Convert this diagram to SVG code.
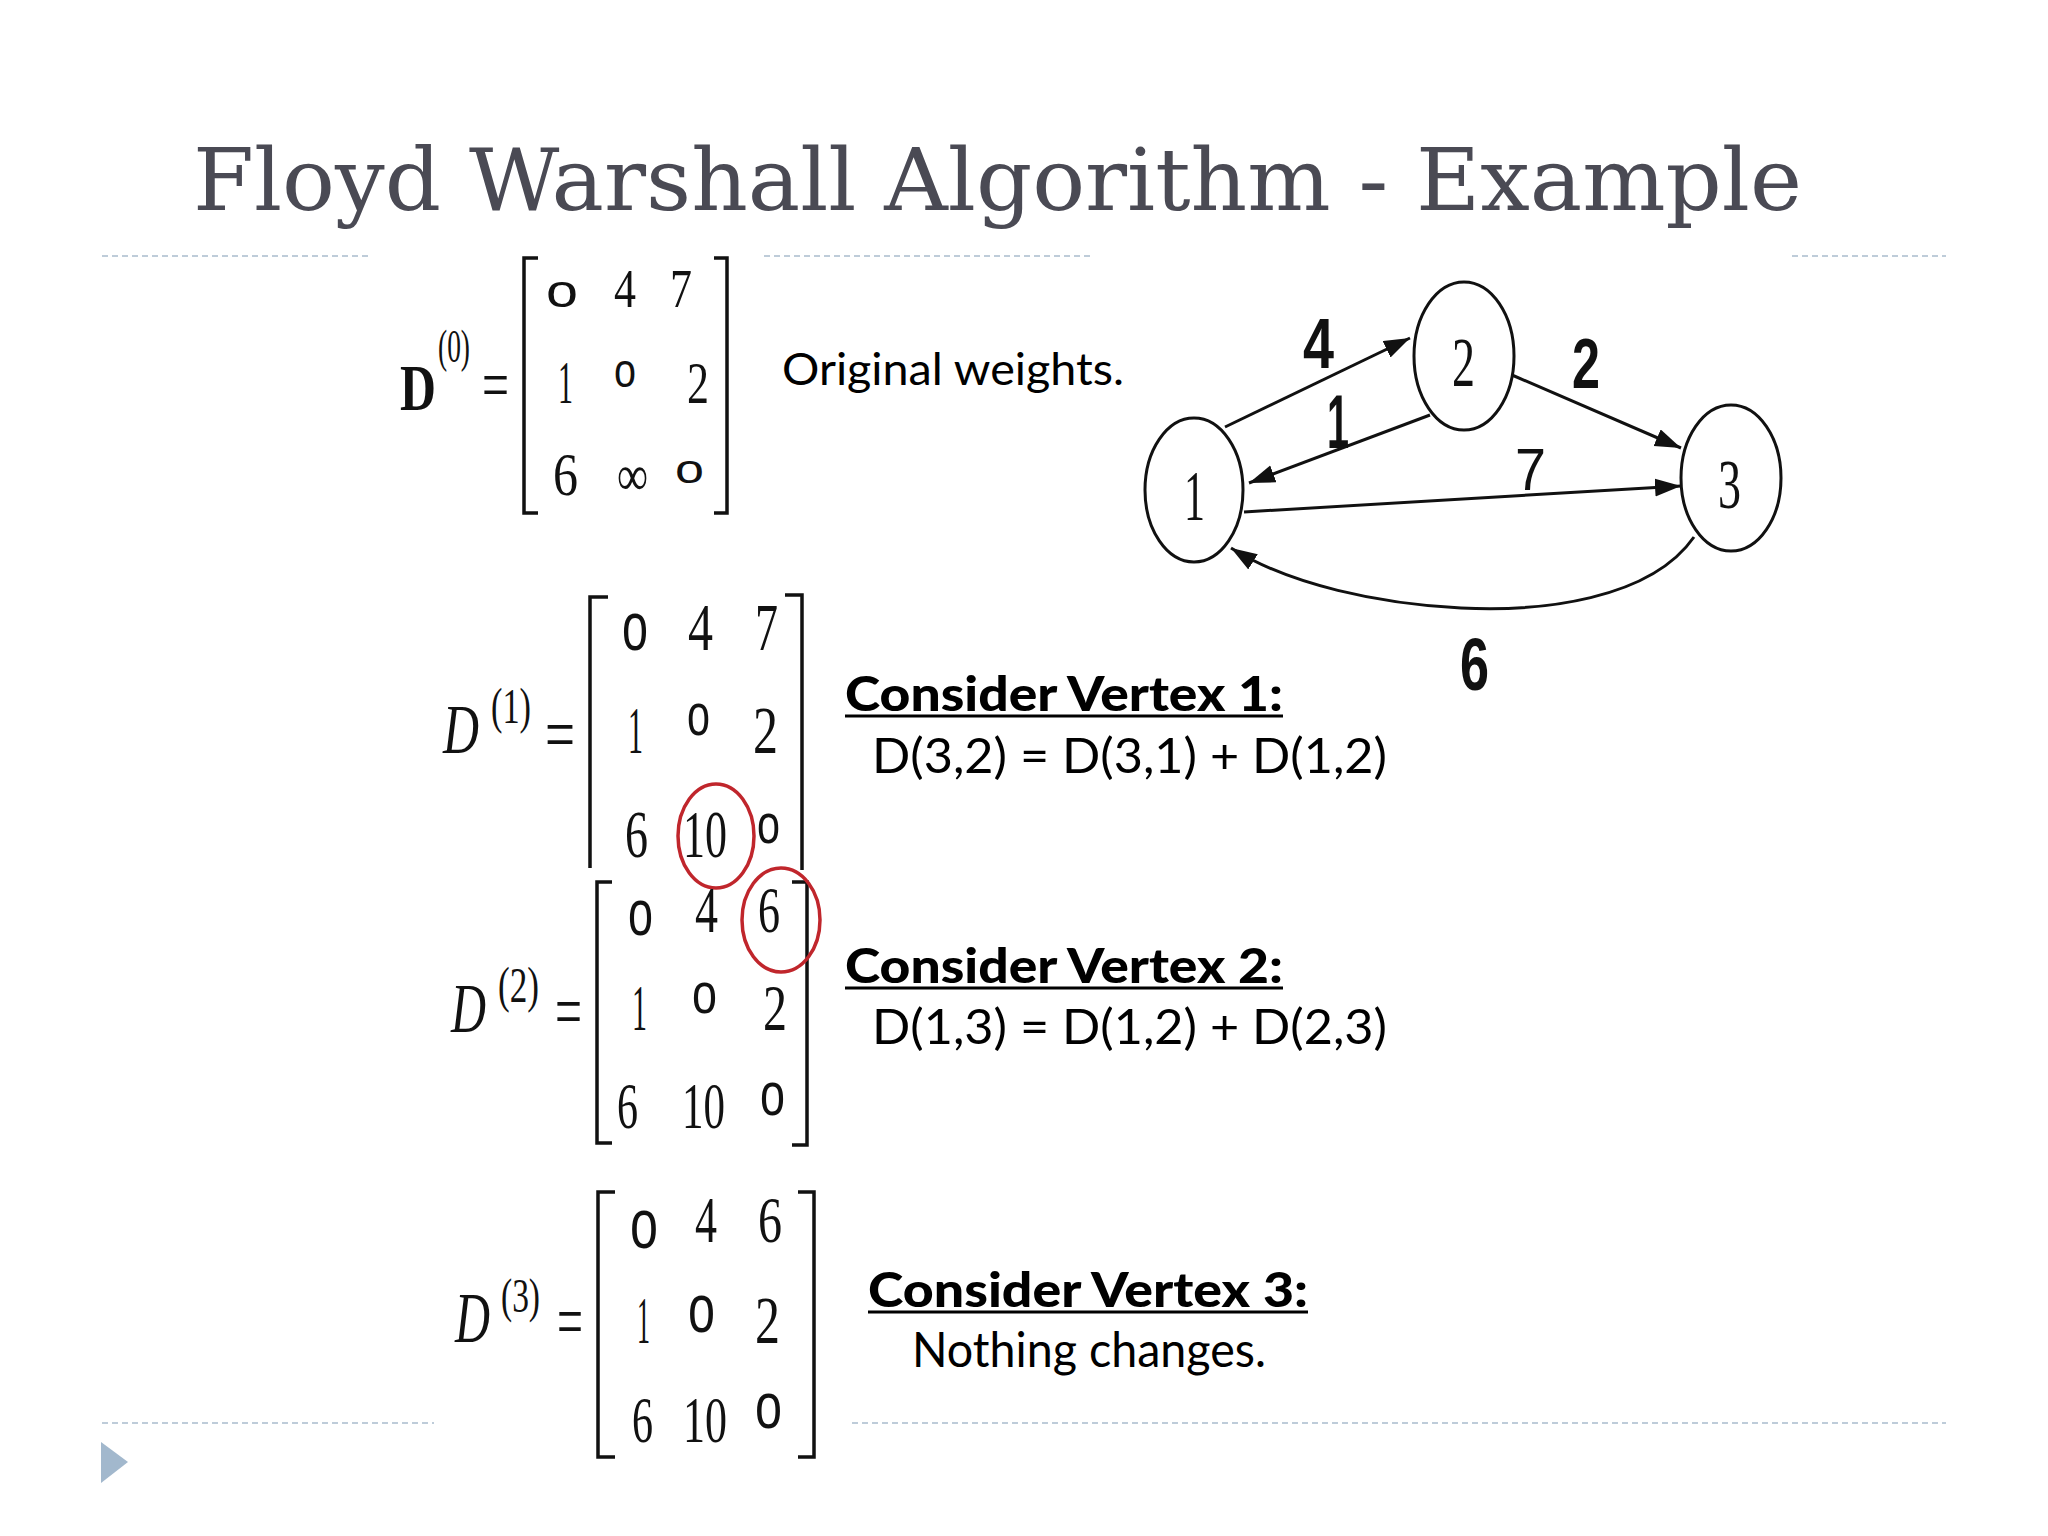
<svg xmlns="http://www.w3.org/2000/svg" width="2048" height="1536" viewBox="0 0 2048 1536">
<style>
.title{font-family:"DejaVu Serif","Liberation Serif",serif;font-size:86px;fill:#4a4a54}
.dash{stroke:#a9bccd;stroke-width:1.6;stroke-dasharray:6 4;fill:none}
.m{font-family:"Liberation Serif","Times New Roman",serif;fill:#111}
.z{font-family:"Liberation Sans",Arial,sans-serif;fill:#111}
.br{stroke:#111;stroke-width:3.5;fill:none}
.txt{font-family:Lato,"Open Sans",sans-serif;font-size:48px;fill:#000}
.hd{font-family:Lato,"Open Sans",sans-serif;font-size:48px;font-weight:900;fill:#000}
.ul{stroke:#000;stroke-width:3}
.red{stroke:#c0262c;stroke-width:3.5;fill:none}
.node ellipse{fill:#fff;stroke:#111;stroke-width:3}
.nl{font-family:"Liberation Serif","Times New Roman",serif;fill:#111}
.edge{stroke:#111;stroke-width:3;fill:none}
.el{font-family:"Liberation Sans",Arial,sans-serif;fill:#111}
</style>
<defs>
<marker id="ah" markerUnits="userSpaceOnUse" markerWidth="28" markerHeight="20" refX="26" refY="9" orient="auto">
<path d="M0,0 L26,9 L0,18 Z" fill="#111"/>
</marker>
</defs>
<rect width="2048" height="1536" fill="#fff"/>

<text class="title" x="193" y="210" textLength="1609" lengthAdjust="spacingAndGlyphs">Floyd Warshall Algorithm - Example</text>

<g id="rules">
<line class="dash" x1="102" y1="256" x2="372" y2="256"/>
<line class="dash" x1="764" y1="256" x2="1094" y2="256"/>
<line class="dash" x1="1792" y1="256" x2="1946" y2="256"/>
<line class="dash" x1="102" y1="1423" x2="434" y2="1423"/>
<line class="dash" x1="852" y1="1423" x2="1946" y2="1423"/>
<path d="M101,1442 L128,1462 L101,1483 Z" fill="#a2b8cd"/>
</g>

<g id="matrix-d0">
<text class="m" x="400" y="410" font-size="66" font-weight="bold" textLength="36" lengthAdjust="spacingAndGlyphs">D</text>
<text class="m" x="438" y="362" font-size="46" textLength="32" lengthAdjust="spacingAndGlyphs">(0)</text>
<text class="m" x="482" y="409" font-size="72" textLength="27" lengthAdjust="spacingAndGlyphs">=</text>
<path class="br" d="M538,258 H524 V513 H538"/>
<path class="br" d="M714,258 H727 V513 H714"/>
<text class="z" x="546" y="307" font-size="46" textLength="32" lengthAdjust="spacingAndGlyphs">o</text>
<text class="m" x="614" y="307" font-size="54" textLength="22" lengthAdjust="spacingAndGlyphs">4</text>
<text class="m" x="670" y="307" font-size="54" textLength="22" lengthAdjust="spacingAndGlyphs">7</text>
<text class="m" x="558" y="403" font-size="62" textLength="15" lengthAdjust="spacingAndGlyphs">1</text>
<text class="z" x="614" y="387" font-size="48" textLength="22" lengthAdjust="spacingAndGlyphs">o</text>
<text class="m" x="687" y="403" font-size="60" textLength="22" lengthAdjust="spacingAndGlyphs">2</text>
<text class="m" x="553" y="495" font-size="62" textLength="25" lengthAdjust="spacingAndGlyphs">6</text>
<text class="m" x="617" y="495" font-size="58" textLength="31" lengthAdjust="spacingAndGlyphs">∞</text>
<text class="z" x="675" y="483" font-size="40" textLength="29" lengthAdjust="spacingAndGlyphs">o</text>
</g>

<text class="txt" x="782" y="385" style="font-size:44px" textLength="342" lengthAdjust="spacingAndGlyphs">Original weights.</text>

<g id="matrix-d1">
<text class="m" x="443" y="753" font-size="70" font-style="italic" textLength="36" lengthAdjust="spacingAndGlyphs">D</text>
<text class="m" x="491" y="723" font-size="51" textLength="40" lengthAdjust="spacingAndGlyphs">(1)</text>
<text class="m" x="545" y="760" font-size="76" textLength="30" lengthAdjust="spacingAndGlyphs">=</text>
<path class="br" d="M608,597 H590 V868"/>
<path class="br" d="M785,595 H802 V870"/>
<text class="z" x="622" y="650" font-size="68" textLength="26" lengthAdjust="spacingAndGlyphs">o</text>
<text class="m" x="688" y="650" font-size="68" textLength="25" lengthAdjust="spacingAndGlyphs">4</text>
<text class="m" x="755" y="650" font-size="68" textLength="23" lengthAdjust="spacingAndGlyphs">7</text>
<text class="m" x="628" y="753" font-size="68" textLength="15" lengthAdjust="spacingAndGlyphs">1</text>
<text class="z" x="687" y="735" font-size="60" textLength="23" lengthAdjust="spacingAndGlyphs">o</text>
<text class="m" x="753" y="753" font-size="68" textLength="25" lengthAdjust="spacingAndGlyphs">2</text>
<text class="m" x="625" y="857" font-size="68" textLength="23" lengthAdjust="spacingAndGlyphs">6</text>
<text class="m" x="683" y="857" font-size="68" textLength="44" lengthAdjust="spacingAndGlyphs">10</text>
<text class="z" x="757" y="843" font-size="56" textLength="23" lengthAdjust="spacingAndGlyphs">o</text>
<ellipse class="red" cx="716" cy="836" rx="38" ry="52"/>
</g>

<g id="matrix-d2">
<text class="m" x="451" y="1032" font-size="70" font-style="italic" textLength="35" lengthAdjust="spacingAndGlyphs">D</text>
<text class="m" x="498" y="1002" font-size="51" textLength="41" lengthAdjust="spacingAndGlyphs">(2)</text>
<text class="m" x="555" y="1037" font-size="76" textLength="27" lengthAdjust="spacingAndGlyphs">=</text>
<path class="br" d="M612,882 H597 V1143 H612"/>
<path class="br" d="M792,882 H807 V1145 H792"/>
<text class="z" x="628" y="935" font-size="64" textLength="25" lengthAdjust="spacingAndGlyphs">o</text>
<text class="m" x="695" y="932" font-size="66" textLength="23" lengthAdjust="spacingAndGlyphs">4</text>
<text class="m" x="758" y="932" font-size="66" textLength="22" lengthAdjust="spacingAndGlyphs">6</text>
<text class="m" x="632" y="1030" font-size="66" textLength="15" lengthAdjust="spacingAndGlyphs">1</text>
<text class="z" x="692" y="1013" font-size="58" textLength="25" lengthAdjust="spacingAndGlyphs">o</text>
<text class="m" x="763" y="1030" font-size="66" textLength="24" lengthAdjust="spacingAndGlyphs">2</text>
<text class="m" x="617" y="1128" font-size="66" textLength="21" lengthAdjust="spacingAndGlyphs">6</text>
<text class="m" x="682" y="1128" font-size="66" textLength="43" lengthAdjust="spacingAndGlyphs">10</text>
<text class="z" x="760" y="1115" font-size="62" textLength="25" lengthAdjust="spacingAndGlyphs">o</text>
<ellipse class="red" cx="781" cy="920" rx="39" ry="52"/>
</g>

<g id="matrix-d3">
<text class="m" x="455" y="1342" font-size="72" font-style="italic" textLength="35" lengthAdjust="spacingAndGlyphs">D</text>
<text class="m" x="501" y="1312" font-size="48" textLength="39" lengthAdjust="spacingAndGlyphs">(3)</text>
<text class="m" x="557" y="1347" font-size="76" textLength="26" lengthAdjust="spacingAndGlyphs">=</text>
<path class="br" d="M615,1192 H598 V1457 H615"/>
<path class="br" d="M798,1192 H814 V1457 H798"/>
<text class="z" x="630" y="1248" font-size="70" textLength="28" lengthAdjust="spacingAndGlyphs">o</text>
<text class="m" x="695" y="1242" font-size="66" textLength="22" lengthAdjust="spacingAndGlyphs">4</text>
<text class="m" x="758" y="1242" font-size="66" textLength="24" lengthAdjust="spacingAndGlyphs">6</text>
<text class="m" x="637" y="1343" font-size="68" textLength="13" lengthAdjust="spacingAndGlyphs">1</text>
<text class="z" x="688" y="1332" font-size="68" textLength="27" lengthAdjust="spacingAndGlyphs">o</text>
<text class="m" x="755" y="1343" font-size="68" textLength="25" lengthAdjust="spacingAndGlyphs">2</text>
<text class="m" x="632" y="1442" font-size="66" textLength="21" lengthAdjust="spacingAndGlyphs">6</text>
<text class="m" x="683" y="1442" font-size="66" textLength="44" lengthAdjust="spacingAndGlyphs">10</text>
<text class="z" x="755" y="1428" font-size="64" textLength="27" lengthAdjust="spacingAndGlyphs">o</text>
</g>

<g id="notes">
<text class="hd" x="845" y="711" textLength="438" lengthAdjust="spacingAndGlyphs">Consider Vertex 1:</text>
<line class="ul" x1="845" y1="716" x2="1283" y2="716"/>
<text class="txt" x="872" y="773" textLength="515" lengthAdjust="spacingAndGlyphs">D(3,2) = D(3,1) + D(1,2)</text>
<text class="hd" x="845" y="983" textLength="438" lengthAdjust="spacingAndGlyphs">Consider Vertex 2:</text>
<line class="ul" x1="845" y1="988" x2="1283" y2="988"/>
<text class="txt" x="872" y="1044" textLength="515" lengthAdjust="spacingAndGlyphs">D(1,3) = D(1,2) + D(2,3)</text>
<text class="hd" x="868" y="1307" textLength="440" lengthAdjust="spacingAndGlyphs">Consider Vertex 3:</text>
<line class="ul" x1="868" y1="1312" x2="1308" y2="1312"/>
<text class="txt" x="912" y="1367" textLength="354" lengthAdjust="spacingAndGlyphs">Nothing changes.</text>
</g>

<g id="connectors">
<line class="edge" x1="1225" y1="427" x2="1410" y2="338" marker-end="url(#ah)"/>
<line class="edge" x1="1430" y1="415" x2="1249" y2="483" marker-end="url(#ah)"/>
<line class="edge" x1="1512" y1="375" x2="1681" y2="448" marker-end="url(#ah)"/>
<line class="edge" x1="1244" y1="512" x2="1681" y2="486" marker-end="url(#ah)"/>
<path class="edge" d="M1694,537 C1650,600 1540,612 1461,608 C1380,604 1290,585 1231,548" marker-end="url(#ah)"/>
<text class="el" x="1303" y="368" font-size="70" font-weight="bold" textLength="31" lengthAdjust="spacingAndGlyphs">4</text>
<text class="el" x="1327" y="448" font-size="76" font-weight="bold" textLength="22" lengthAdjust="spacingAndGlyphs">1</text>
<text class="el" x="1572" y="388" font-size="70" font-weight="bold" textLength="28" lengthAdjust="spacingAndGlyphs">2</text>
<text class="el" x="1515" y="490" font-size="60" textLength="31" lengthAdjust="spacingAndGlyphs">7</text>
<text class="el" x="1460" y="690" font-size="74" font-weight="bold" textLength="29" lengthAdjust="spacingAndGlyphs">6</text>
</g>

<g id="node-1" class="node">
<ellipse cx="1194" cy="490" rx="49" ry="72"/>
<text class="nl" x="1184" y="520" font-size="72" textLength="21" lengthAdjust="spacingAndGlyphs">1</text>
</g>
<g id="node-2" class="node">
<ellipse cx="1464" cy="356" rx="50" ry="74"/>
<text class="nl" x="1452" y="386" font-size="70" textLength="23" lengthAdjust="spacingAndGlyphs">2</text>
</g>
<g id="node-3" class="node">
<ellipse cx="1731" cy="478" rx="50" ry="73"/>
<text class="nl" x="1718" y="508" font-size="70" textLength="23" lengthAdjust="spacingAndGlyphs">3</text>
</g>
</svg>
